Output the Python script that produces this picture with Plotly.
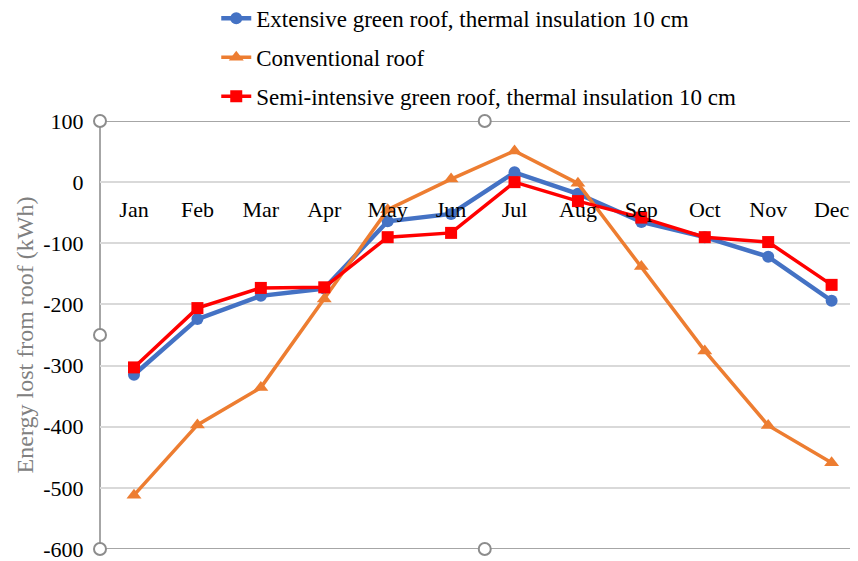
import plotly.graph_objects as go

months = ["Jan", "Feb", "Mar", "Apr", "May", "Jun", "Jul", "Aug", "Sep", "Oct", "Nov", "Dec"]
extensive = [-315, -224, -186, -174, -64, -52, 16, -19, -65, -90, -122, -194]
conventional = [-512, -397, -336, -191, -45, 5, 51, -2, -138, -276, -398, -459]
semi_intensive = [-303, -206, -173, -172, -90, -83, 0, -31, -58, -90, -98, -168]
y_ticks = [100, 0, -100, -200, -300, -400, -500, -600]

FONT = "Liberation Serif, Times New Roman, serif"

fig = go.Figure()
fig.add_trace(go.Scatter(x=months, y=extensive, mode="lines+markers",
                         name="Extensive green roof, thermal insulation 10 cm",
                         line=dict(color="#4472C4", width=4.5),
                         marker=dict(symbol="circle", size=12, color="#4472C4"),
                         legendgroup="a"))
fig.add_trace(go.Scatter(x=months, y=conventional, mode="lines+markers",
                         name="Conventional roof",
                         line=dict(color="#ED7D31", width=3.5),
                         marker=dict(symbol="triangle-up", size=13, color="#ED7D31"),
                         legendgroup="b"))
fig.add_trace(go.Scatter(x=months, y=semi_intensive, mode="lines+markers",
                         name="Semi-intensive green roof, thermal insulation 10 cm",
                         line=dict(color="#FF0000", width=3.5),
                         marker=dict(symbol="square", size=12, color="#FF0000"),
                         legendgroup="c"))

# selection-frame lines and handles (as in the reference screenshot)
frame_col = "#A6A6A6"
fig.add_shape(type="line", xref="x domain", yref="y", x0=0, x1=1, y0=100, y1=100,
              line=dict(color=frame_col, width=2), layer="below")
fig.add_shape(type="line", xref="x domain", yref="y", x0=0, x1=1, y0=-600, y1=-600,
              line=dict(color=frame_col, width=2), layer="below")
fig.add_shape(type="line", xref="x domain", yref="y domain", x0=0, x1=0, y0=0, y1=1,
              line=dict(color=frame_col, width=2), layer="below")
for hx, hy in [(0, 1), (0.513, 1), (0, 0.5), (0, 0), (0.513, 0)]:
    fig.add_shape(type="circle", xref="x domain", yref="y domain",
                  xsizemode="pixel", ysizemode="pixel", xanchor=hx, yanchor=hy,
                  x0=-6, x1=6, y0=-6, y1=6,
                  line=dict(color="#8C8C8C", width=2), fillcolor="white", layer="above")

fig.update_layout(
    width=842, height=553,
    margin=dict(l=92, r=0, t=113, b=12, autoexpand=False),
    paper_bgcolor="white", plot_bgcolor="white",
    font=dict(family=FONT, size=22, color="black"),
    showlegend=True,
    legend=dict(x=0.155, y=1.29, xanchor="left", yanchor="top", traceorder="grouped",
                tracegroupgap=6, font=dict(size=23, family=FONT),
                bgcolor="rgba(0,0,0,0)"),
    xaxis=dict(type="category", range=[-0.536, 11.29], anchor="free",
               position=6 / 7, showgrid=False, showline=False, zeroline=False,
               ticks="outside", ticklen=7, tickcolor="rgba(0,0,0,0)", tickangle=0,
               tickfont=dict(size=22, family=FONT, color="black")),
    yaxis=dict(range=[-600, 100], tickvals=y_ticks, ticktext=[str(v) for v in y_ticks],
               showgrid=True, gridcolor="#D9D9D9", gridwidth=1.5, zeroline=False,
               showline=False, ticks="outside", ticklen=11, tickcolor="rgba(0,0,0,0)",
               ticklabeloverflow="allow",
               tickfont=dict(size=22, family=FONT, color="black"),
               title=dict(text="Energy lost from roof (kWh)", standoff=2,
                          font=dict(size=24, family=FONT, color="#808080"))),
)

fig.write_html("out.html")
